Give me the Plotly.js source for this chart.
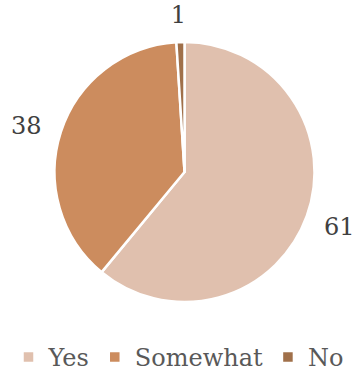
<!DOCTYPE html>
<html><head><meta charset="utf-8">
<script src="https://cdn.plot.ly/plotly-3.0.1.min.js"></script>
<style>html,body{margin:0;padding:0;background:#fff;overflow:hidden}#chart{width:357px;height:380px}</style>
</head><body><div id="chart"></div>
<script>
const labels = ["Yes", "Somewhat", "No"];
const values = [61, 38, 1];
const colors = ["#E0C0AE", "#CC8C5E", "#A0704A"];

const FONT = "DejaVu Serif, Liberation Serif, serif";
const CLEAR = ["rgba(0,0,0,0)", "rgba(0,0,0,0)", "rgba(0,0,0,0)"];

function labelPie(domain, template) {
  // transparent copy of the pie, used only to place value labels further out
  return {
    type: "pie",
    labels: labels,
    values: values,
    sort: false,
    direction: "clockwise",
    rotation: 0,
    showlegend: false,
    texttemplate: template,
    textposition: "outside",
    textfont: {family: FONT, size: 24, color: "#404040"},
    marker: {colors: CLEAR, line: {width: 0}},
    domain: domain,
    hoverinfo: "skip"
  };
}

const data = [{
  type: "pie",
  labels: labels,
  values: values,
  sort: false,
  direction: "clockwise",
  rotation: 0,
  textinfo: "none",
  marker: {colors: colors, line: {color: "#ffffff", width: 2.5}},
  domain: {x: [0.1527, 0.881], y: [0.2053, 0.8895]},
  hoverinfo: "label+value"
},
  labelPie({x: [0.1106, 0.9118], y: [0.1579, 0.9105]}, ["%{value}", "", ""]),
  labelPie({x: [0.1162, 0.9174], y: [0.1711, 0.9237]}, ["", "%{value}", ""]),
  labelPie({x: [0.1527, 0.9538], y: [0.1711, 0.9237]}, ["", "", "%{value}"])
];
const layout = {
  width: 357, height: 380,
  margin: {l: 0, r: 0, t: 0, b: 0},
  paper_bgcolor: "#ffffff",
  showlegend: true,
  legend: {orientation: "h", x: 0.5, xanchor: "center", y: 0, yanchor: "bottom",
           font: {family: FONT, size: 24, color: "#595959"},
           itemwidth: 30, tracegroupgap: 0}
};
Plotly.newPlot("chart", data, layout, {displayModeBar: false, staticPlot: true});
</script></body></html>
